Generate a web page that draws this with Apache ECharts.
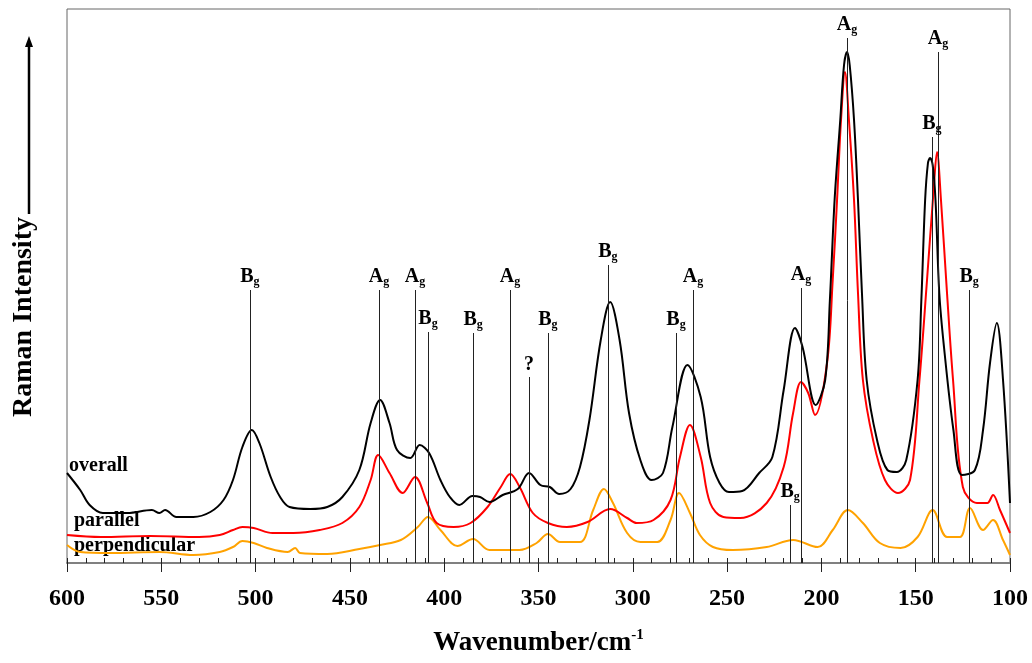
<!DOCTYPE html>
<html>
<head>
<meta charset="utf-8">
<script src="https://cdn.jsdelivr.net/npm/echarts@6/dist/echarts.min.js"></script>
<style>
    html, body { margin: 0; padding: 0; background: #fff; }
    #raman { width: 1032px; height: 663px; }
</style>
</head>
<body>
<div id="raman"></div>
<script>
'use strict';

/** 光谱数据 [wavenumber, intensity] */
var overall = [
    [600, 90], [593, 73], [588, 58], [581, 50], [568, 50], [555, 53], [551, 50], [548, 53],
    [542, 46], [533, 46], [524, 51], [517, 63], [512, 83], [507, 116], [502, 133], [498, 120],
    [492, 86], [487, 66], [482, 56], [471, 54], [462, 56], [454, 66], [445, 93], [439, 140],
    [434, 163], [429, 140], [425, 113], [418, 105], [413, 118], [408, 110], [402, 83], [397, 66],
    [392, 58], [385, 67], [381, 66], [376, 61], [369, 68], [361, 74], [355, 90], [349, 78],
    [344, 76], [339, 69], [333, 74], [328, 96], [323, 143], [317, 223], [312, 261], [307, 223],
    [302, 150], [296, 103], [290, 83], [284, 90], [279, 136], [271, 198], [264, 166], [259, 106],
    [254, 80], [249, 71], [242, 72], [233, 90], [226, 106], [220, 173], [214, 235], [210, 216],
    [203, 158], [198, 183], [195.5, 263], [193, 363], [190, 443], [188, 498], [186.4, 511],
    [185, 498], [182.7, 443], [180.6, 363], [178.5, 270], [176, 183], [170.5, 123], [165, 93],
    [160, 91], [155, 103], [149, 183], [147, 263], [145, 363], [143.5, 400], [142.4, 405],
    [141, 398], [139.5, 363], [137.5, 270], [135, 216], [130, 133], [125.5, 88], [118.6, 93],
    [114.3, 133], [110.6, 200], [107, 240], [103.7, 183], [100, 60]
];
var parallel = [
    [600, 28], [582, 26], [556, 27], [530, 26], [519, 28], [512, 33], [507, 36], [501, 35],
    [491, 30], [480, 30], [466, 33], [454, 40], [445, 56], [439, 83], [435, 108], [429, 90],
    [422, 70], [415.5, 86], [409, 60], [404, 40], [395, 36], [386, 40], [377, 56], [370, 76],
    [365, 89], [360, 76], [353, 50], [345, 40], [335, 36], [324, 41], [312, 54], [303, 45],
    [298, 40], [289, 43], [280, 63], [275, 106], [269.7, 138], [264, 106], [259, 60], [252, 46],
    [243, 45], [229, 60], [220, 96], [215, 150], [210.8, 181], [207, 170], [203.4, 148],
    [197, 200], [194, 283], [191.7, 363], [189.6, 443], [187.5, 491], [185.4, 443], [182.7, 363],
    [180.6, 270], [178, 183], [172.6, 123], [166.3, 83], [159.4, 70], [153, 83], [148, 183],
    [144, 283], [140.5, 373], [138.7, 411], [136.6, 363], [133.4, 270], [130.2, 183],
    [125, 76], [117.5, 60], [112, 60], [109, 68], [105.3, 53], [100, 30]
];
var perpendicular = [
    [600, 18], [593, 11], [577, 10], [551, 11], [533, 8], [519, 11], [512, 16], [507, 22],
    [501, 20], [494, 15], [483, 11], [479, 15], [476.5, 10], [462, 9], [445, 14], [434, 18],
    [423, 23], [414, 36], [408.6, 46], [402, 33], [393, 17], [384.7, 24], [376, 13], [360, 13],
    [351, 20], [345, 29], [338.6, 21], [328, 21], [321, 53], [315.3, 74], [310.5, 60], [303, 30],
    [296, 21], [287, 21], [280, 43], [275.5, 70], [269.7, 50], [264.4, 28], [257.5, 16],
    [247, 13], [229, 16], [215, 23], [202, 16], [194, 33], [186, 53], [178, 40], [169, 20],
    [158, 15], [149, 26], [141, 53], [133.4, 26], [126.5, 26], [121.2, 55], [114.3, 33],
    [109, 43], [103.7, 23], [100, 8]
];

/** 振动模式标注 */
var modeWavenumber = [503, 434.6, 415.5, 408.6, 384.7, 365.1, 355, 345, 313.2, 277.1, 268.1, 216.6, 210.8, 186.4, 141.4, 138.2, 121.7];
var modeTop = [273, 273, 273, 231, 230, 273, 186, 230, 298, 230, 273, 58, 275, 525, 426, 511, 273];
var modeSymmetry = ['B', 'A', 'A', 'B', 'B', 'A', '?', 'B', 'B', 'B', 'A', 'B', 'A', 'A', 'B', 'A', 'B'];

var xTicks = [600, 550, 500, 450, 400, 350, 300, 250, 200, 150, 100];

var serif = "'Liberation Serif', 'Times New Roman', serif";

var modeLines = modeWavenumber.map(function (w, i) {
    return [{ coord: [w, 0] }, { coord: [w, modeTop[i]] }];
});

var raman = echarts.init(document.getElementById('raman'), null, { renderer: 'canvas' });

var option = {
    animation: false,
    grid: {
        left: 67,
        right: 22,
        top: 9,
        bottom: 100,
        outerBoundsMode: 'none',
        containLabel: false,
        show: true,
        borderColor: '#666',
        borderWidth: 1
    },
    xAxis: [{
        type: 'value',
        min: xTicks[xTicks.length - 1],
        max: xTicks[0],
        interval: 50,
        inverse: true,
        position: 'bottom',
        axisLine: { lineStyle: { color: '#808080', width: 2 } },
        axisTick: { show: true, length: 9, lineStyle: { color: '#222', width: 1 } },
        splitLine: { show: false },
        axisLabel: {
            margin: 24,
            color: '#000',
            fontFamily: serif,
            fontWeight: 'bold',
            fontSize: 24
        },
        name: '{a|Wavenumber/cm}{s|-1}',
        nameLocation: 'middle',
        nameGap: 65,
        nameTextStyle: {
            rich: {
                a: { fontFamily: serif, fontWeight: 'bold', fontSize: 27, color: '#000' },
                s: { fontFamily: serif, fontWeight: 'bold', fontSize: 15, color: '#000', padding: [0, 0, 16, 0] }
            }
        }
    }, {
        type: 'value',
        min: 100,
        max: 600,
        interval: 10,
        inverse: true,
        position: 'bottom',
        axisLine: { show: false },
        axisTick: { show: true, inside: true, length: 5, lineStyle: { color: '#222', width: 1 } },
        axisLabel: { show: false },
        splitLine: { show: false }
    }],
    yAxis: {
        type: 'value',
        min: 0,
        max: 554,
        show: false
    },
    series: [{
        name: 'perpendicular',
        type: 'line',
        data: perpendicular,
        showSymbol: false,
        smooth: 0.35,
        lineStyle: { color: '#ffa200', width: 2 }
    }, {
        name: 'parallel',
        type: 'line',
        data: parallel,
        showSymbol: false,
        smooth: 0.35,
        lineStyle: { color: '#ff0000', width: 2 }
    }, {
        name: 'overall',
        type: 'line',
        data: overall,
        showSymbol: false,
        smooth: 0.35,
        lineStyle: { color: '#000', width: 2 }
    }, {
        name: 'modes',
        type: 'line',
        data: [],
        z: 5,
        markLine: {
            silent: true,
            symbol: ['none', 'none'],
            animation: false,
            lineStyle: { color: '#222', width: 1, type: 'solid' },
            label: {
                show: true,
                position: 'end',
                distance: 2,
                formatter: function (p) {
                    var s = modeSymmetry[p.dataIndex];
                    return s === '?' ? '{m|?}' : '{m|' + s + '}{g|g}';
                },
                rich: {
                    m: { fontFamily: serif, fontWeight: 'bold', fontSize: 20, color: '#000' },
                    g: { fontFamily: serif, fontWeight: 'bold', fontSize: 12, color: '#000', padding: [11, 0, 0, 0] }
                }
            },
            data: modeLines
        }
    }],
    graphic: [{
        type: 'text',
        x: 24,
        y: 317,
        rotation: Math.PI / 2,
        style: {
            text: 'Raman Intensity',
            fill: '#000',
            font: 'bold 28px ' + serif,
            textAlign: 'center',
            textVerticalAlign: 'middle'
        }
    }, {
        type: 'line',
        shape: { x1: 29, y1: 214, x2: 29, y2: 46 },
        style: { stroke: '#000', lineWidth: 2.5 }
    }, {
        type: 'polygon',
        shape: { points: [[29, 36], [25, 47], [33, 47]] },
        style: { fill: '#000' }
    }, {
        type: 'text',
        x: 69,
        y: 466,
        style: { text: 'overall', fill: '#000', font: 'bold 20px ' + serif, textVerticalAlign: 'middle' }
    }, {
        type: 'text',
        x: 74,
        y: 521,
        style: { text: 'parallel', fill: '#000', font: 'bold 20px ' + serif, textVerticalAlign: 'middle' }
    }, {
        type: 'text',
        x: 74,
        y: 546,
        style: { text: 'perpendicular', fill: '#000', font: 'bold 20px ' + serif, textVerticalAlign: 'middle' }
    }]
};

raman.setOption(option);
</script>
</body>
</html>
